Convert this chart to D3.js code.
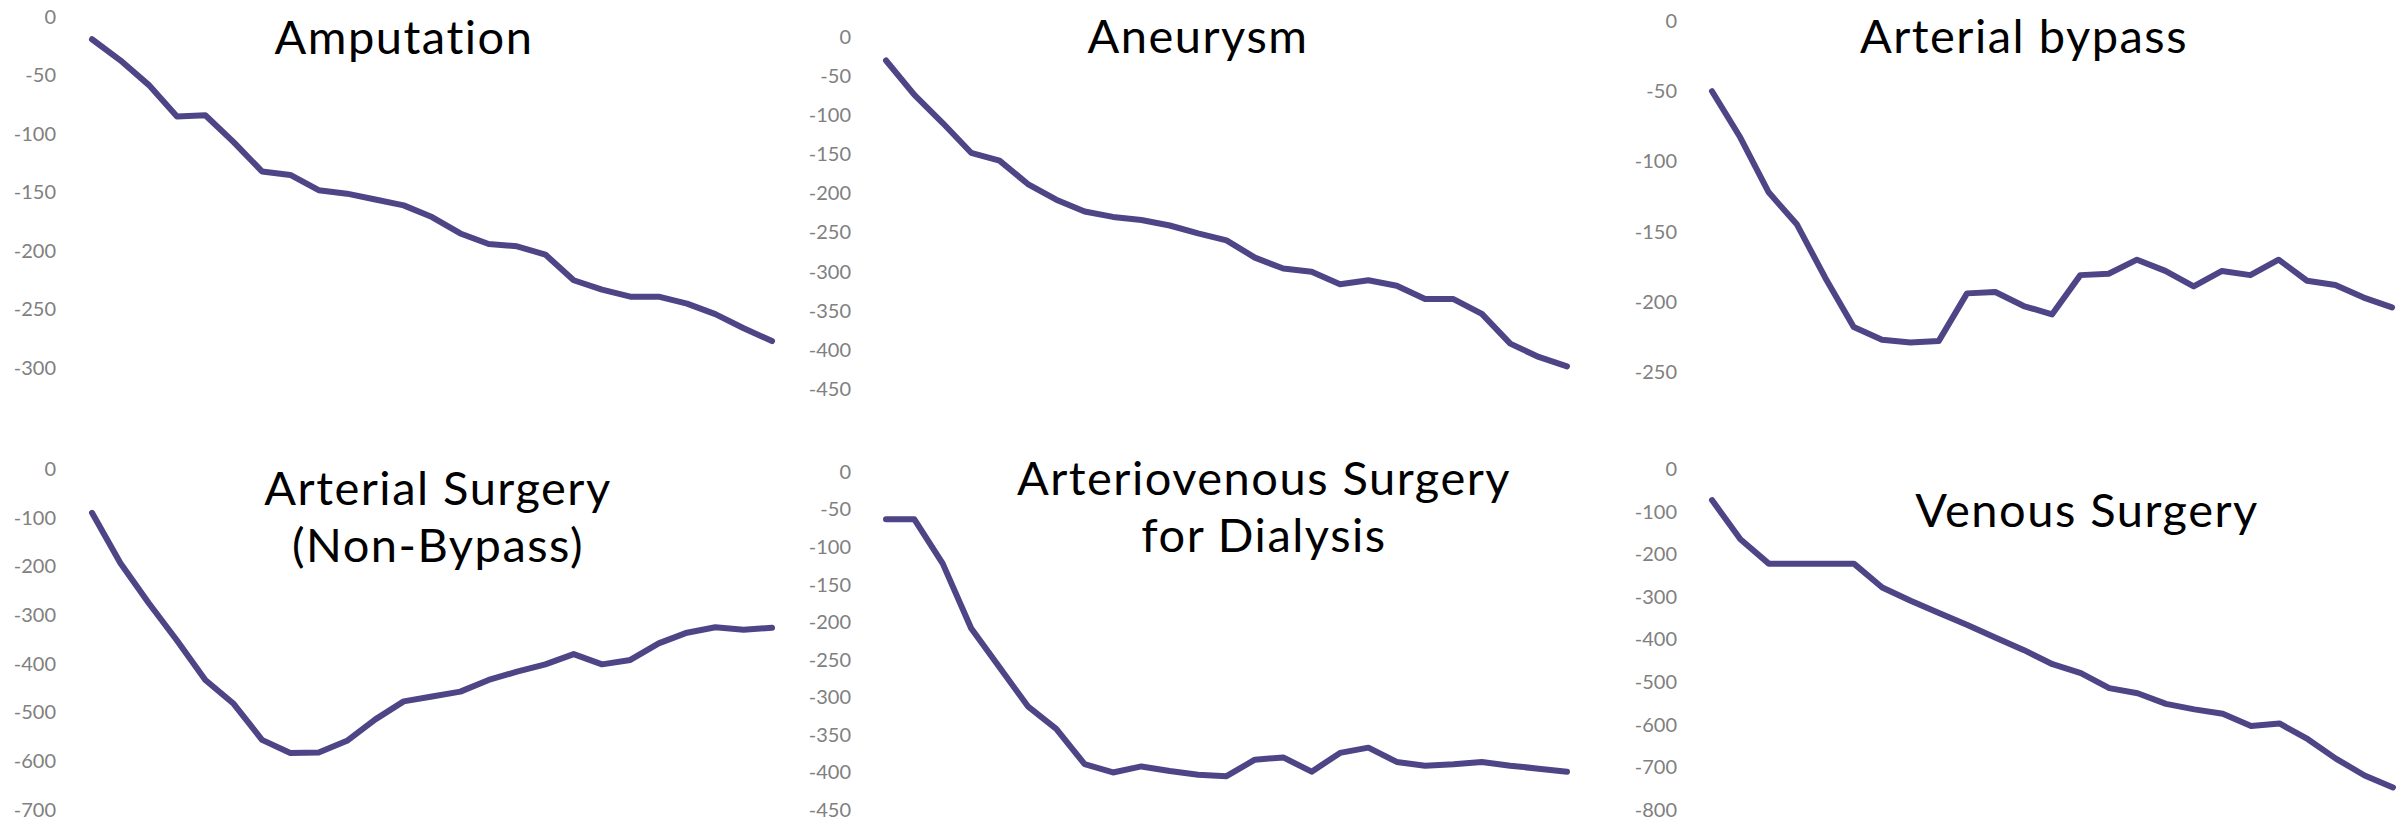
<!DOCTYPE html>
<html>
<head>
<meta charset="utf-8">
<script src="https://cdn.jsdelivr.net/npm/d3@7"></script>
<style>
  html, body { margin: 0; padding: 0; background: #fff; }
  svg { display: block; }
</style>
</head>
<body>
<div id="chart"></div>
<script>
// Panel titles (multi-line ones split into lines)
const titles = [
  ["Amputation"],
  ["Aneurysm"],
  ["Arterial bypass"],
  ["Arterial Surgery", "(Non-Bypass)"],
  ["Arteriovenous Surgery", "for Dialysis"],
  ["Venous Surgery"],
];

// Series values (25 points each)
const amputation = [-19, -37, -58, -85, -84, -107, -132, -135, -148, -151, -156, -161, -171, -185, -194, -196, -203, -225, -233, -239, -239, -245, -254, -266, -277];
const aneurysm = [-30, -74, -110, -148, -158, -188, -208, -223, -230, -234, -241, -251, -260, -282, -296, -300, -316, -311, -318, -335, -335, -354, -392, -409, -421];
const arterialBypass = [-50, -83, -122, -145, -183, -218, -227, -229, -228, -194, -193, -203, -209, -181, -180, -170, -178, -189, -178, -181, -170, -185, -188, -197, -204];
const arterialSurgery = [-90, -193, -275, -352, -433, -482, -556, -583, -582, -558, -514, -477, -467, -457, -433, -416, -401, -380, -401, -392, -358, -336, -325, -330, -326];
const arteriovenous = [-63, -63, -122, -208, -260, -312, -342, -389, -400, -392, -398, -403, -405, -383, -380, -399, -374, -367, -386, -391, -389, -386, -391, -395, -399];
const venous = [-73, -165, -222, -222, -222, -222, -278, -309, -338, -366, -396, -425, -458, -479, -514, -526, -551, -564, -574, -603, -597, -634, -680, -719, -747];

const series = [amputation, aneurysm, arterialBypass, arterialSurgery, arteriovenous, venous];

// Tick labels of each y axis
const yTicks = [
  [0, -50, -100, -150, -200, -250, -300],
  [0, -50, -100, -150, -200, -250, -300, -350, -400, -450],
  [0, -50, -100, -150, -200, -250],
  [0, -100, -200, -300, -400, -500, -600, -700],
  [0, -50, -100, -150, -200, -250, -300, -350, -400, -450],
  [0, -100, -200, -300, -400, -500, -600, -700, -800],
];

// Where each small chart sits on the page
const frames = [
  { x0: 92, x1: 772, yTop: 17, yBot: 368, labelX: 56, titleX: 404, titleY: 54 },
  { x0: 886, x1: 1567, yTop: 37, yBot: 389, labelX: 851, titleX: 1198, titleY: 53 },
  { x0: 1712, x1: 2392, yTop: 21, yBot: 372, labelX: 1677, titleX: 2024, titleY: 53 },
  { x0: 92, x1: 772, yTop: 469, yBot: 810, labelX: 56, titleX: 438, titleY: 505 },
  { x0: 886, x1: 1567, yTop: 472, yBot: 810, labelX: 851, titleX: 1264, titleY: 495 },
  { x0: 1712, x1: 2393, yTop: 469, yBot: 810, labelX: 1677, titleX: 2087, titleY: 527 },
];

const width = 2402;
const height = 824;
const lineColor = "#4e4587";
const fontFamily = "Lato, 'Open Sans', sans-serif";

const svg = d3
  .select("#chart")
  .append("svg")
  .attr("width", width)
  .attr("height", height);

series.forEach((values, k) => {
  const f = frames[k];
  const ticks = yTicks[k];

  const x = d3
    .scalePoint()
    .domain(values.map((d, i) => i))
    .range([f.x0, f.x1]);

  const y = d3
    .scaleLinear()
    .domain([d3.min(ticks), 0])
    .range([f.yBot, f.yTop]);

  const g = svg.append("g").attr("class", "panel");

  // y axis labels only, no domain line or ticks
  const axis = g
    .append("g")
    .attr("transform", `translate(${f.labelX},0)`)
    .call(
      d3
        .axisLeft(y)
        .tickValues(ticks)
        .tickSize(0)
        .tickPadding(0)
        .tickFormat((d) => String(d))
    );
  axis.select(".domain").remove();
  axis
    .selectAll("text")
    .attr("fill", "#808080")
    .style("font-family", fontFamily)
    .style("font-size", "20px");

  // the line
  const line = d3
    .line()
    .x((d, i) => x(i))
    .y((d) => y(d));

  g.append("path")
    .datum(values)
    .attr("d", line)
    .attr("fill", "none")
    .attr("stroke", lineColor)
    .attr("stroke-width", 6)
    .attr("stroke-linejoin", "round")
    .attr("stroke-linecap", "round");

  // title, one text per line
  titles[k].forEach((t, j) => {
    g.append("text")
      .attr("x", f.titleX)
      .attr("y", f.titleY + j * 57)
      .attr("text-anchor", "middle")
      .style("font-family", fontFamily)
      .style("font-size", "47px")
      .style("letter-spacing", "1.5px")
      .attr("fill", "#000")
      .text(t);
  });
});
</script>
</body>
</html>
